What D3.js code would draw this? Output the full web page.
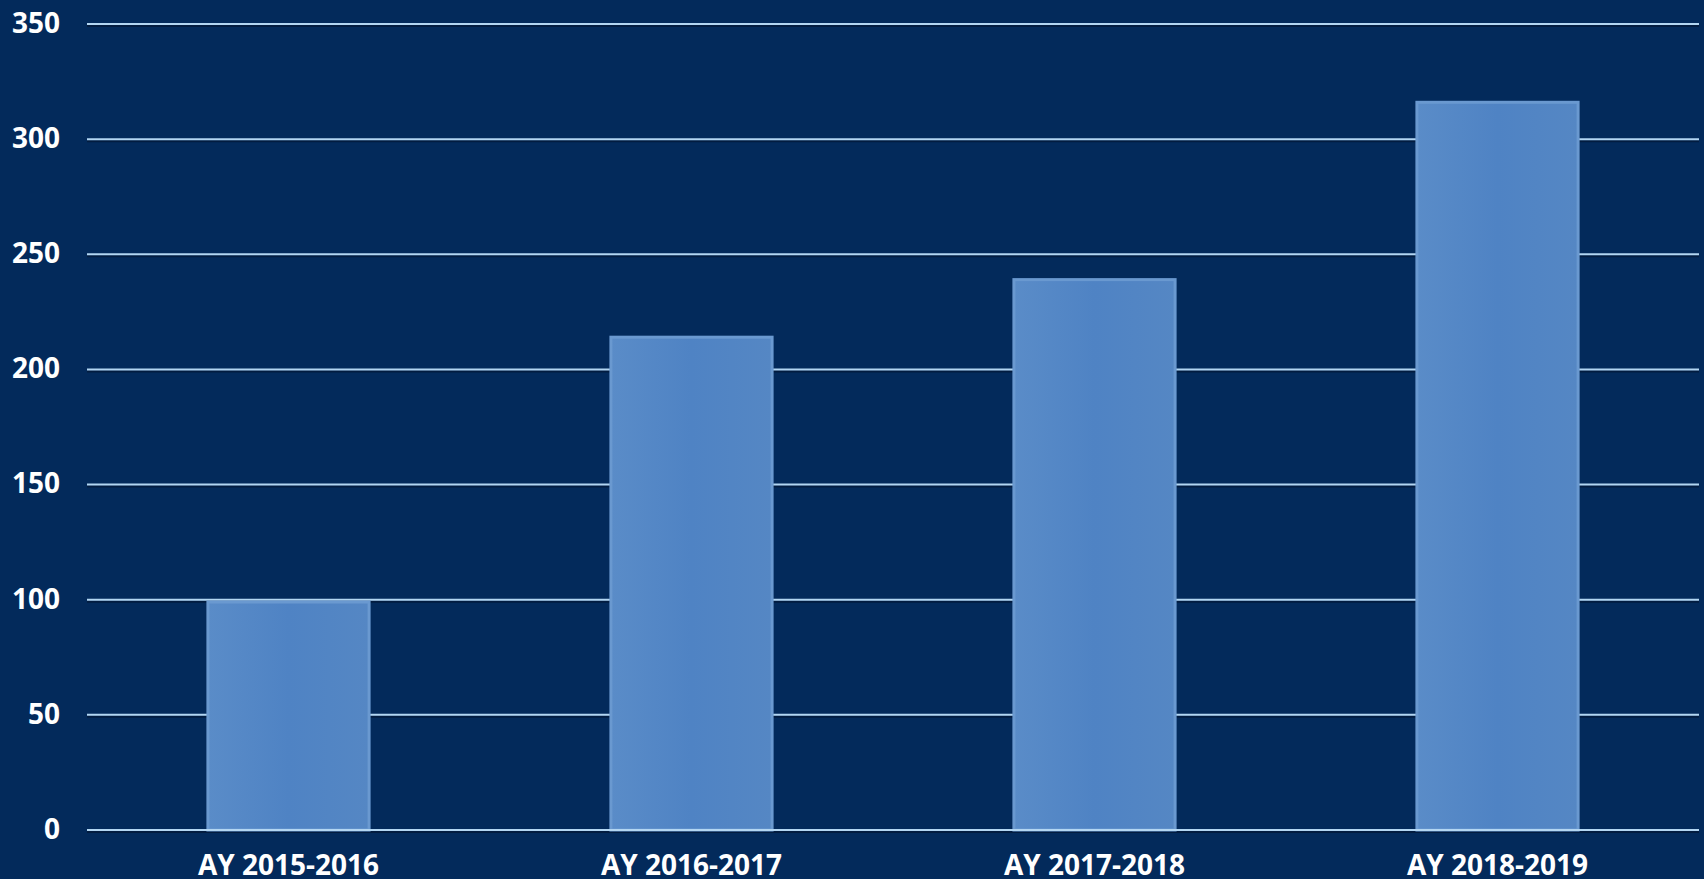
<!DOCTYPE html>
<html>
<head>
<meta charset="utf-8">
<script src="https://cdn.jsdelivr.net/npm/d3@7"></script>
<style>
  html, body { margin: 0; padding: 0; background: #032a5b; }
  svg { display: block; }
  .tick text { font-family: "Open Sans", Lato, sans-serif; font-weight: bold; fill: #ffffff; }
</style>
</head>
<body>
<svg class="chart"></svg>
<script>
// Data
var categories = ['AY 2015-2016', 'AY 2016-2017', 'AY 2017-2018', 'AY 2018-2019'];
var values = [99, 214, 239, 316];
var yTicks = [0, 50, 100, 150, 200, 250, 300, 350];

// Margins
var margin = { top: 24, right: 5, bottom: 49, left: 87 },
    width = 1704 - margin.left - margin.right,
    height = 879 - margin.top - margin.bottom;

var svg = d3.select('.chart')
    .attr('width', width + margin.left + margin.right)
    .attr('height', height + margin.top + margin.bottom);

// bar fill gradient
var defs = svg.append('defs');
var grad = defs.append('linearGradient').attr('id', 'barGrad').attr('x1', 0).attr('x2', 1).attr('y1', 0).attr('y2', 0);
grad.append('stop').attr('offset', '0%').attr('stop-color', '#5a8cc8');
grad.append('stop').attr('offset', '50%').attr('stop-color', '#4f83c4');
grad.append('stop').attr('offset', '100%').attr('stop-color', '#5587c4');

var chart = svg.append('g')
    .attr('transform', 'translate(' + margin.left + ',' + margin.top + ')');

var x = d3.scaleBand().domain(categories).range([0, width]).paddingInner(0.6).paddingOuter(0.3);
var y = d3.scaleLinear().domain([0, 350]).range([height, 0]);

// gridlines (with a thin dark shadow under each)
chart.append('g')
    .selectAll('line.shadow')
    .data(yTicks)
    .enter()
    .append('line')
    .attr('class', 'shadow')
    .attr('x1', 0).attr('x2', width)
    .attr('y1', function (d) { return y(d) + 2; })
    .attr('y2', function (d) { return y(d) + 2; })
    .attr('stroke', '#021c40')
    .attr('stroke-width', 2);

chart.append('g')
    .selectAll('line.grid')
    .data(yTicks)
    .enter()
    .append('line')
    .attr('class', 'grid')
    .attr('x1', 0).attr('x2', width)
    .attr('y1', function (d) { return y(d); })
    .attr('y2', function (d) { return y(d); })
    .attr('stroke', '#b3d6f2')
    .attr('stroke-width', 2);

// bars
var data = categories.map(function (c, i) { return { cat: c, val: values[i] }; });

chart.selectAll('.bar')
    .data(data)
    .enter()
    .append('rect')
    .attr('class', 'bar')
    .attr('x', function (d) { return x(d.cat); })
    .attr('width', x.bandwidth())
    .attr('y', function (d) { return y(d.val); })
    .attr('height', function (d) { return height - y(d.val); })
    .attr('fill', 'url(#barGrad)')
    .attr('stroke', '#6a99d0')
    .attr('stroke-width', 3);

// baseline over the bars
chart.append('line')
    .attr('x1', 0).attr('x2', width)
    .attr('y1', y(0)).attr('y2', y(0))
    .attr('stroke', '#b3d6f2')
    .attr('stroke-width', 2);

// Axes
var yAxis = d3.axisLeft(y).tickValues(yTicks).tickSize(0).tickPadding(27);
chart.append('g').attr('class', 'y axis').call(yAxis)
    .call(function (g) { g.select('.domain').remove(); })
    .selectAll('text').style('font-size', '28px').attr('dy', '0.3em');

var xAxis = d3.axisBottom(x).tickSize(0).tickPadding(25);
chart.append('g').attr('class', 'x axis')
    .attr('transform', 'translate(0,' + height + ')')
    .call(xAxis)
    .call(function (g) { g.select('.domain').remove(); })
    .selectAll('text').style('font-size', '28px');
</script>
</body>
</html>
